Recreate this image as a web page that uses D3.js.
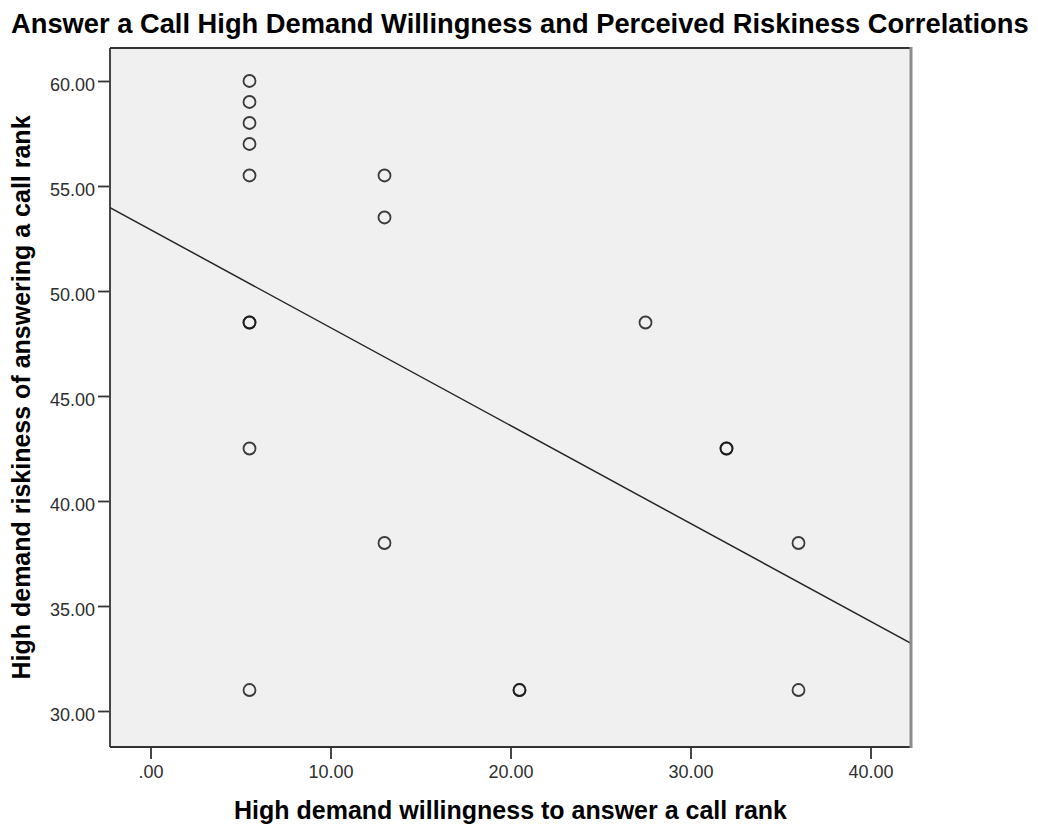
<!DOCTYPE html>
<html>
<head>
<meta charset="utf-8">
<script src="https://cdn.jsdelivr.net/npm/d3@7"></script>
<style>
  html, body { margin: 0; padding: 0; background: #ffffff; }
  svg { display: block; }
  text { font-family: "Liberation Sans", Arial, Helvetica, sans-serif; }
</style>
</head>
<body>
<script>
// Rank pairs (coincident pairs are listed twice so they render darker)
const willingnessRank = [
  5.5, 5.5, 5.5, 5.5, 5.5, 5.5, 5.5, 5.5, 5.5,
  13, 13, 13,
  20.5, 20.5,
  27.5,
  32, 32,
  36, 36
];
const riskinessRank = [
  60, 59, 58, 57, 55.5, 48.5, 48.5, 42.5, 31,
  55.5, 53.5, 38,
  31, 31,
  48.5,
  42.5, 42.5,
  38, 31
];

// Linear fit line: riskiness = intercept + slope * willingness
const fitIntercept = [52.92];
const fitSlope = [-0.4663];

const xTicks = [0, 10, 20, 30, 40];
const yTicks = [30, 35, 40, 45, 50, 55, 60];

const chartTitle = "Answer a Call High Demand Willingness and Perceived Riskiness Correlations";
const xTitle = "High demand willingness to answer a call rank";
const yTitle = "High demand riskiness of answering a call rank";

const W = 1038, H = 825;
const plot = { left: 110, right: 911, top: 48, bottom: 747 };

const svg = d3.select("body").append("svg")
  .attr("width", W).attr("height", H);

const x = d3.scaleLinear().domain([-2.25, 42.25]).range([plot.left, plot.right]);
const y = d3.scaleLinear().domain([28.286, 61.571]).range([plot.bottom, plot.top]);

// Leading zero dropped, two decimals
const fmt = d => {
  const s = d3.format(".2f")(d);
  return s.startsWith("0.") ? s.slice(1) : s;
};

// Plot background
svg.append("rect")
  .attr("x", plot.left).attr("y", plot.top)
  .attr("width", plot.right - plot.left).attr("height", plot.bottom - plot.top)
  .attr("fill", "#f0f0f0");

// Clip for the fit line
svg.append("clipPath").attr("id", "plot-clip")
  .append("rect")
  .attr("x", plot.left).attr("y", plot.top)
  .attr("width", plot.right - plot.left).attr("height", plot.bottom - plot.top);

// Fit line
const [xd0, xd1] = x.domain();
const fitLine = d3.line().x(d => x(d)).y(d => y(fitIntercept[0] + fitSlope[0] * d));
svg.append("path")
  .attr("clip-path", "url(#plot-clip)")
  .attr("d", fitLine([xd0, xd1]))
  .attr("fill", "none")
  .attr("stroke", "#262626")
  .attr("stroke-width", 1.5);

// Points
svg.append("g").selectAll("circle")
  .data(willingnessRank.map((w, i) => [w, riskinessRank[i]]))
  .join("circle")
  .attr("cx", d => x(d[0]))
  .attr("cy", d => y(d[1]))
  .attr("r", 6)
  .attr("fill", "none")
  .attr("stroke", "#1a1a1a")
  .attr("stroke-opacity", 0.85)
  .attr("stroke-width", 1.8);

// Frame
const frame = svg.append("g");
frame.append("line").attr("x1", plot.left).attr("x2", plot.right)
  .attr("y1", plot.top).attr("y2", plot.top);
frame.append("line").attr("x1", plot.left).attr("x2", plot.right)
  .attr("y1", plot.bottom).attr("y2", plot.bottom);
frame.append("line").attr("x1", plot.left).attr("x2", plot.left)
  .attr("y1", plot.top).attr("y2", plot.bottom);
frame.selectAll("line").attr("stroke", "#333333").attr("stroke-width", 1.8);
frame.append("line").attr("x1", plot.right).attr("x2", plot.right)
  .attr("y1", plot.top - 1).attr("y2", plot.bottom + 1)
  .attr("stroke", "#8c8c8c").attr("stroke-width", 3);

// Axes
const yAxis = svg.append("g")
  .attr("transform", `translate(${plot.left - 1},0)`)
  .call(d3.axisLeft(y).tickValues(yTicks).tickFormat(fmt).tickSize(11).tickPadding(3));
const xAxis = svg.append("g")
  .attr("transform", `translate(0,${plot.bottom + 1})`)
  .call(d3.axisBottom(x).tickValues(xTicks).tickFormat(fmt).tickSize(11).tickPadding(6));

[xAxis, yAxis].forEach(g => {
  g.select(".domain").remove();
  g.selectAll(".tick line").attr("stroke", "#333333").attr("stroke-width", 1.8);
  g.selectAll(".tick text")
    .attr("fill", "#2e2e2e")
    .style("font-family", "'Liberation Sans', Arial, sans-serif")
    .style("font-size", "18px");
});
yAxis.selectAll(".tick text").attr("dy", "0.55em");

// Titles
svg.append("text")
  .attr("x", 11).attr("y", 33)
  .attr("font-size", 27.3).attr("font-weight", "bold")
  .attr("fill", "#000")
  .text(chartTitle);

svg.append("text")
  .attr("x", (plot.left + plot.right) / 2).attr("y", 819)
  .attr("text-anchor", "middle")
  .attr("font-size", 25).attr("font-weight", "bold")
  .attr("fill", "#000")
  .text(xTitle);

svg.append("text")
  .attr("transform", `translate(30,${(plot.top + plot.bottom) / 2}) rotate(-90)`)
  .attr("text-anchor", "middle")
  .attr("font-size", 25).attr("font-weight", "bold")
  .attr("fill", "#000")
  .text(yTitle);
</script>
</body>
</html>
